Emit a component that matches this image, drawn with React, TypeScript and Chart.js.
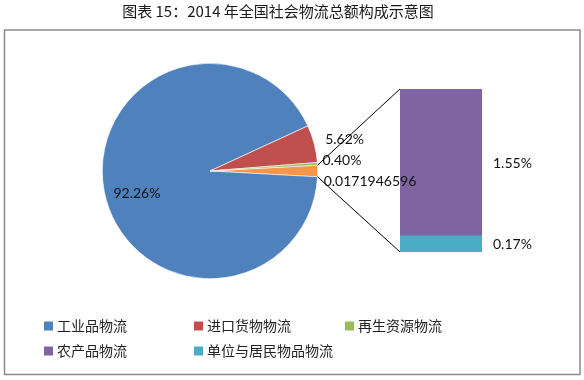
import React, { useEffect, useRef } from "react";
import { Chart, registerables } from "chart.js";

Chart.register(...registerables);

const titleText = "图表 15：2014 年全国社会物流总额构成示意图";

// Pie: first slice is the combined "other" slice that expands into the bar
const pieLabels = ["其他", "工业品物流", "进口货物物流", "再生资源物流"];
const pieValues = [1.72, 92.26, 5.62, 0.4];
const pieLabelTexts = ["0.0171946596", "92.26%", "5.62%", "0.40%"];
const pieColors = ["#F79646", "#4F81BD", "#C0504D", "#9BBB59"];

// Bar (stacked from bottom): 单位与居民物品物流, 农产品物流
const barLabels = ["单位与居民物品物流", "农产品物流"];
const barValues = [0.17, 1.55];
const barLabelTexts = ["0.17%", "1.55%"];
const barColors = ["#4BACC6", "#8064A2"];

const legendLabels = ["工业品物流", "进口货物物流", "再生资源物流", "农产品物流", "单位与居民物品物流"];
const legendColors = ["#4F81BD", "#C0504D", "#9BBB59", "#8064A2", "#4BACC6"];

const LABEL_FONT = "14px Lato, 'Open Sans', sans-serif";
const CJK_FONT = "'Noto Sans CJK SC', 'Noto Sans', sans-serif";

const BAR_LEFT = 400;
const BAR_TOP = 89;

export default function App() {
  const pieRef = useRef<HTMLCanvasElement>(null);
  const barRef = useRef<HTMLCanvasElement>(null);

  useEffect(() => {
    const barTotal = barValues.reduce((a, b) => a + b, 0);
    const barLabelPlugin = {
      id: "barLabels",
      afterDatasetsDraw(chart: any) {
        const ctx = chart.ctx;
        ctx.save();
        ctx.font = LABEL_FONT;
        ctx.fillStyle = "#111";
        ctx.textAlign = "left";
        ctx.textBaseline = "middle";
        chart.data.datasets.forEach((_d: any, i: number) => {
          const el = chart.getDatasetMeta(i).data[0] as any;
          ctx.fillText(barLabelTexts[i], el.x + el.width / 2 + 11, (el.y + el.base) / 2 + 1);
        });
        ctx.restore();
      },
    };

    const barChart = new Chart(barRef.current!, {
      type: "bar",
      data: {
        labels: ["其他"],
        datasets: barLabels.map((l, i) => ({
          label: l,
          data: [barValues[i]],
          backgroundColor: barColors[i],
          borderWidth: 0,
          categoryPercentage: 1,
          barPercentage: 1,
        })),
      },
      options: {
        responsive: false,
        animation: false,
        events: [],
        layout: { padding: { left: 0, right: 102, top: 0, bottom: 0 } },
        plugins: { legend: { display: false }, tooltip: { enabled: false }, title: { display: false } },
        scales: {
          x: { display: false, stacked: true },
          y: { display: false, stacked: true, min: 0, max: barTotal },
        },
      },
      plugins: [barLabelPlugin],
    } as any);

    const pieTotal = pieValues.reduce((a, b) => a + b, 0);
    // label placement per slice: inside (factor of radius) or outside (offset from edge)
    const labelPlacement = [
      { inside: false, dx: 6, dy: 10 },
      { inside: true, f: 0.71, dx: 2, dy: 8 },
      { inside: false, dx: 11, dy: -4 },
      { inside: false, dx: 5, dy: -3 },
    ];

    const overlayPlugin = {
      id: "overlay",
      afterDraw(chart: any) {
        const ctx = chart.ctx;
        ctx.save();
        // frame
        ctx.strokeStyle = "#8a8a8a";
        ctx.lineWidth = 1.5;
        ctx.strokeRect(4.5, 30, 575.5, 344.5);
        // title
        ctx.fillStyle = "#1a1a1a";
        ctx.font = "15px " + CJK_FONT;
        ctx.textAlign = "center";
        ctx.textBaseline = "middle";
        ctx.fillText(titleText, 278, 11);

        // pie labels
        const arcs = chart.getDatasetMeta(0).data as any[];
        ctx.font = LABEL_FONT;
        ctx.fillStyle = "#111";
        arcs.forEach((arc, i) => {
          const p = labelPlacement[i];
          const mid = (arc.startAngle + arc.endAngle) / 2;
          if (p.inside) {
            const r = arc.outerRadius * (p.f as number);
            ctx.textAlign = "center";
            ctx.fillText(pieLabelTexts[i], arc.x + r * Math.cos(mid) + p.dx, arc.y + r * Math.sin(mid) + p.dy);
          } else {
            const r = arc.outerRadius;
            ctx.textAlign = "left";
            ctx.fillText(pieLabelTexts[i], arc.x + r * Math.cos(mid) + p.dx, arc.y + r * Math.sin(mid) + p.dy);
          }
        });

        // connector lines from "other" slice to the bar
        const o = arcs[0];
        const R = o.outerRadius;
        const top = barChart.getDatasetMeta(barValues.length - 1).data[0] as any;
        const bottom = barChart.getDatasetMeta(0).data[0] as any;
        ctx.strokeStyle = "#000";
        ctx.lineWidth = 1;
        ctx.beginPath();
        ctx.moveTo(o.x + R * Math.cos(o.startAngle), o.y + R * Math.sin(o.startAngle));
        ctx.lineTo(BAR_LEFT + top.x - top.width / 2, BAR_TOP + top.y);
        ctx.moveTo(o.x + R * Math.cos(o.endAngle), o.y + R * Math.sin(o.endAngle));
        ctx.lineTo(BAR_LEFT + bottom.x - bottom.width / 2, BAR_TOP + bottom.base);
        ctx.stroke();

        // legend grid
        const colX = [44, 194, 345];
        const rowY = [326, 351];
        ctx.font = "14px " + CJK_FONT;
        ctx.textAlign = "left";
        ctx.textBaseline = "middle";
        legendLabels.forEach((lab, i) => {
          const x = colX[i % 3];
          const y = rowY[Math.floor(i / 3)];
          ctx.fillStyle = legendColors[i];
          ctx.fillRect(x, y - 4.5, 9, 9);
          ctx.fillStyle = "#222";
          ctx.fillText(lab, x + 13, y);
        });
        ctx.restore();
      },
    };

    const pieChart = new Chart(pieRef.current!, {
      type: "pie",
      data: {
        labels: pieLabels,
        datasets: [
          {
            data: pieValues,
            backgroundColor: pieColors,
            borderColor: "#ffffff",
            borderWidth: 0.6,
          },
        ],
      },
      options: {
        responsive: false,
        animation: false,
        events: [],
        rotation: 90 - (pieValues[0] / pieTotal) * 180,
        layout: { padding: { left: 102, top: 62, right: 266, bottom: 100 } },
        plugins: { legend: { display: false }, tooltip: { enabled: false }, title: { display: false } },
      },
      plugins: [overlayPlugin],
    } as any);

    return () => {
      pieChart.destroy();
      barChart.destroy();
    };
  }, []);

  return (
    <div style={{ position: "fixed", left: 0, top: 0, width: 584, height: 380, background: "#fff" }}>
      <canvas
        ref={barRef}
        width={184}
        height={163}
        style={{ position: "absolute", left: BAR_LEFT, top: BAR_TOP }}
      />
      <canvas ref={pieRef} width={584} height={380} style={{ position: "absolute", left: 0, top: 0 }} />
    </div>
  );
}
